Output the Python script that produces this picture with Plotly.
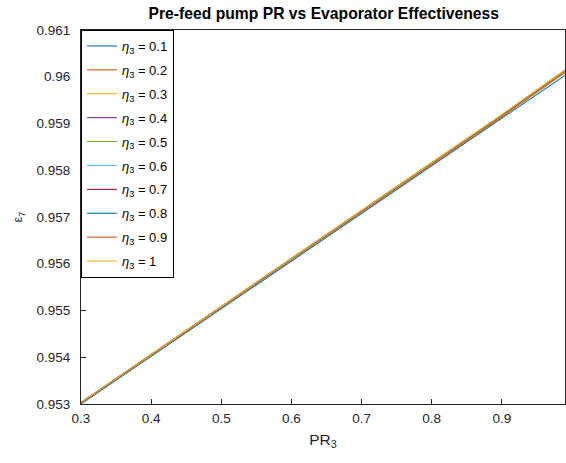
import plotly.graph_objects as go

pr3 = [0.3, 0.4, 0.5, 0.6, 0.7, 0.8, 0.9, 0.99]
eta3 = ["0.1", "0.2", "0.3", "0.4", "0.5", "0.6", "0.7", "0.8", "0.9", "1"]
eps7 = [
    [0.95300, 0.95402, 0.95504, 0.95606, 0.95708, 0.95809, 0.95911, 0.96003],
    [0.95302, 0.95404, 0.95506, 0.95608, 0.95710, 0.95812, 0.95914, 0.96009],
    [0.95302, 0.95405, 0.95507, 0.95609, 0.95711, 0.95813, 0.95916, 0.96011],
    [0.95303, 0.95405, 0.95507, 0.95610, 0.95712, 0.95814, 0.95917, 0.96012],
    [0.95303, 0.95405, 0.95508, 0.95610, 0.95712, 0.95815, 0.95917, 0.96012],
    [0.95303, 0.95406, 0.95508, 0.95610, 0.95713, 0.95815, 0.95918, 0.96013],
    [0.95303, 0.95406, 0.95508, 0.95611, 0.95713, 0.95815, 0.95918, 0.96013],
    [0.95303, 0.95406, 0.95508, 0.95611, 0.95713, 0.95816, 0.95918, 0.96013],
    [0.95303, 0.95406, 0.95509, 0.95611, 0.95714, 0.95816, 0.95918, 0.96014],
    [0.95303, 0.95406, 0.95509, 0.95611, 0.95714, 0.95816, 0.95919, 0.96014],
]
colors = ["#0072BD", "#D95319", "#EDB120", "#7E2F8E", "#77AC30",
          "#4DBEEE", "#A2142F", "#0072BD", "#D95319", "#EDB120"]

fig = go.Figure()
for i, (lab, ys, c) in enumerate(zip(eta3, eps7, colors)):
    fig.add_trace(go.Scatter(x=pr3, y=ys, mode="lines",
                             line=dict(color=c, width=1.1),
                             legendgroup=f"g{i}",
                             name=f"<i>η</i><sub>3</sub> = {lab}"))

axcol = "#262626"
fig.update_layout(
    width=566, height=463,
    margin=dict(l=81, r=1, t=30, b=59),
    paper_bgcolor="white", plot_bgcolor="white",
    font=dict(family="Liberation Sans, Arial, sans-serif", color=axcol, size=13),
    title=dict(text="<b>Pre-feed pump PR vs Evaporator Effectiveness</b>",
               x=0.572, xanchor="center", y=0.97, yanchor="middle",
               font=dict(size=15.7, color="black")),
    xaxis=dict(range=[0.3, 0.99], tickvals=[0.3, 0.4, 0.5, 0.6, 0.7, 0.8, 0.9],
               ticktext=["0.3", "0.4", "0.5", "0.6", "0.7", "0.8", "0.9"],
               showgrid=False, zeroline=False, showline=True, mirror=True,
               linecolor=axcol, linewidth=1, ticks="inside", ticklen=5,
               tickcolor=axcol, tickfont=dict(size=13.5), ticklabelstandoff=2,
               title=dict(text="PR<sub>3</sub>", font=dict(size=15.5), standoff=8)),
    yaxis=dict(range=[0.953, 0.961], dtick=0.001, tickformat="~r",
               showgrid=False, zeroline=False, showline=True, mirror=True,
               linecolor=axcol, linewidth=1, ticks="inside", ticklen=5,
               tickcolor=axcol, tickfont=dict(size=13.5), ticklabelstandoff=7,
               title=dict(text="ε<sub>7</sub>", font=dict(size=13), standoff=10)),
    legend=dict(x=0.0, y=1.0, xanchor="left", yanchor="top",
                bordercolor="black", borderwidth=1, bgcolor="white",
                font=dict(size=13, color="black"), tracegroupgap=4,
                itemwidth=30),
    showlegend=True,
)
fig.write_html("out.html")
